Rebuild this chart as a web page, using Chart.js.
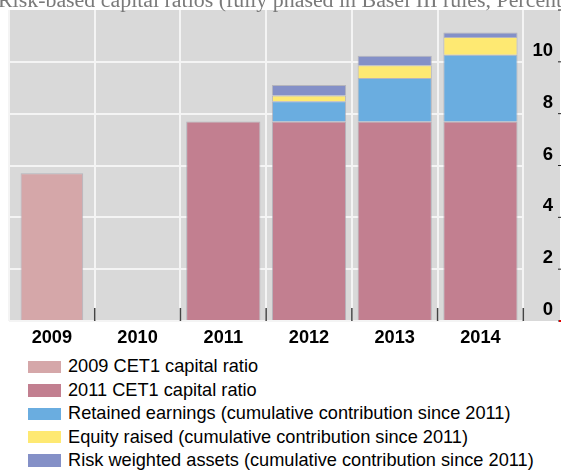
<!DOCTYPE html>
<html>
<head>
<meta charset="utf-8">
<script src="https://cdn.jsdelivr.net/npm/chart.js@4.4.1/dist/chart.umd.min.js"></script>
<style>
  body { margin: 0; background: #fff; font-family: Arial, 'Liberation Sans', sans-serif; }
  #chartBox { position: relative; width: 561px; height: 350px; }
  #legend { list-style: none; margin: 0; padding: 5.3px 0 0 28px; }
  #legend li { height: 23.4px; display: flex; align-items: center; font-size: 18.2px; color: #000; white-space: nowrap; }
  #legend span.box { display: inline-block; width: 33px; height: 12.5px; margin-right: 7px; }
</style>
</head>
<body>
<div id="chartBox"><canvas id="capitalChart"></canvas></div>
<ul id="legend"></ul>
<script>
const years = ['2009', '2010', '2011', '2012', '2013', '2014'];
const cet1_2009 = [5.7, null, null, null, null, null];
const cet1_2011 = [null, null, 7.7, 7.7, 7.7, 7.7];
const retainedEarnings = [null, null, null, 0.78, 1.68, 2.57];
const equityRaised = [null, null, null, 0.22, 0.49, 0.69];
const riskWeightedAssets = [null, null, null, 0.41, 0.36, 0.17];
const yTicks = [0, 2, 4, 6, 8, 10, 12];

const titleText = 'Risk-based capital ratios (fully phased in Basel III rules, Percent)';

// Gray panel, title and little tick marks
const panelPlugin = {
    id: 'panel',
    beforeDraw(chart) {
        const { ctx, chartArea } = chart;
        ctx.save();
        ctx.fillStyle = '#d9d9d9';
        ctx.fillRect(chartArea.left, chartArea.top, chart.width - 1 - chartArea.left, chartArea.bottom - chartArea.top);
        ctx.fillStyle = '#7a7a7a';
        ctx.font = "21.9px 'Times New Roman', 'Liberation Serif', serif";
        ctx.textBaseline = 'alphabetic';
        ctx.fillText(titleText, -2, 7);
        ctx.restore();
    },
    afterDatasetsDraw(chart) {
        const { ctx, chartArea, scales } = chart;
        ctx.save();
        ctx.strokeStyle = '#444';
        ctx.lineWidth = 1.5;
        for (let i = 1; i <= years.length; i++) {
            let x;
            if (i < years.length) {
                x = (scales.x.getPixelForValue(i - 1) + scales.x.getPixelForValue(i)) / 2;
            } else {
                x = chartArea.right;
            }
            ctx.beginPath();
            ctx.moveTo(x, chartArea.bottom - 13);
            ctx.lineTo(x, chartArea.bottom);
            ctx.stroke();
        }
        ctx.strokeStyle = '#222';
        ctx.lineWidth = 1;
        yTicks.forEach(v => {
            const y = scales.y.getPixelForValue(v);
            ctx.beginPath();
            ctx.moveTo(558, y);
            ctx.lineTo(561, y);
            ctx.stroke();
        });
        ctx.fillStyle = '#e00000';
        ctx.fillRect(559, chartArea.bottom - 1, 2, 2);
        ctx.restore();
    }
};

const barBorder = 'rgba(165,165,175,0.7)';

const chart = new Chart(document.getElementById('capitalChart'), {
    type: 'bar',
    data: {
        labels: years,
        datasets: [
            { label: '2009 CET1 capital ratio', data: cet1_2009, backgroundColor: '#d5a7a9', barPercentage: 0.73 },
            { label: '2011 CET1 capital ratio', data: cet1_2011, backgroundColor: '#c27f90' },
            { label: 'Retained earnings (cumulative contribution since 2011)', data: retainedEarnings, backgroundColor: '#6aade0' },
            { label: 'Equity raised (cumulative contribution since 2011)', data: equityRaised, backgroundColor: '#fee972' },
            { label: 'Risk weighted assets (cumulative contribution since 2011)', data: riskWeightedAssets, backgroundColor: '#8490c7' }
        ].map(d => Object.assign({
            borderColor: barBorder,
            borderWidth: 1,
            barPercentage: 0.866,
            categoryPercentage: 1
        }, d))
    },
    options: {
        responsive: true,
        maintainAspectRatio: false,
        animation: false,
        layout: { padding: { left: 9, top: 10, right: 8, bottom: 0 } },
        plugins: {
            legend: { display: false },
            tooltip: { enabled: false }
        },
        scales: {
            x: {
                stacked: true,
                grid: { color: '#f4f4f4', lineWidth: 2, drawTicks: false, offset: true },
                border: { display: false },
                ticks: {
                    padding: 6,
                    color: '#000',
                    font: { family: "Arial, 'Liberation Sans', sans-serif", size: 18.2, weight: 'bold' }
                },
                afterFit(scale) {
                    scale.height = 29;
                    scale.paddingLeft = 0;
                    scale.paddingRight = 0;
                }
            },
            y: {
                stacked: true,
                position: 'right',
                min: 0,
                max: 12,
                grid: {
                    color: ctx => ctx.tick && ctx.tick.value === 12 ? 'rgba(0,0,0,0)' : '#f4f4f4',
                    lineWidth: 2,
                    drawTicks: false
                },
                border: { display: false },
                afterBuildTicks(scale) { scale.ticks = yTicks.map(v => ({ value: v })); },
                ticks: {
                    padding: 10,
                    crossAlign: 'far',
                    labelOffset: -11,
                    color: '#000',
                    font: { family: "Arial, 'Liberation Sans', sans-serif", size: 18.5, weight: 'bold' },
                    callback: v => v === 12 ? '' : v
                },
                afterFit(scale) {
                    scale.width = 29.7;
                    scale.paddingTop = 0;
                    scale.paddingBottom = 0;
                }
            }
        }
    },
    plugins: [panelPlugin]
});

// Vertical legend under the chart
const legendList = document.getElementById('legend');
chart.data.datasets.forEach(ds => {
    const li = document.createElement('li');
    li.innerHTML = `<span class="box" style="background:${ds.backgroundColor}"></span>${ds.label}`;
    legendList.appendChild(li);
});
</script>
</body>
</html>
